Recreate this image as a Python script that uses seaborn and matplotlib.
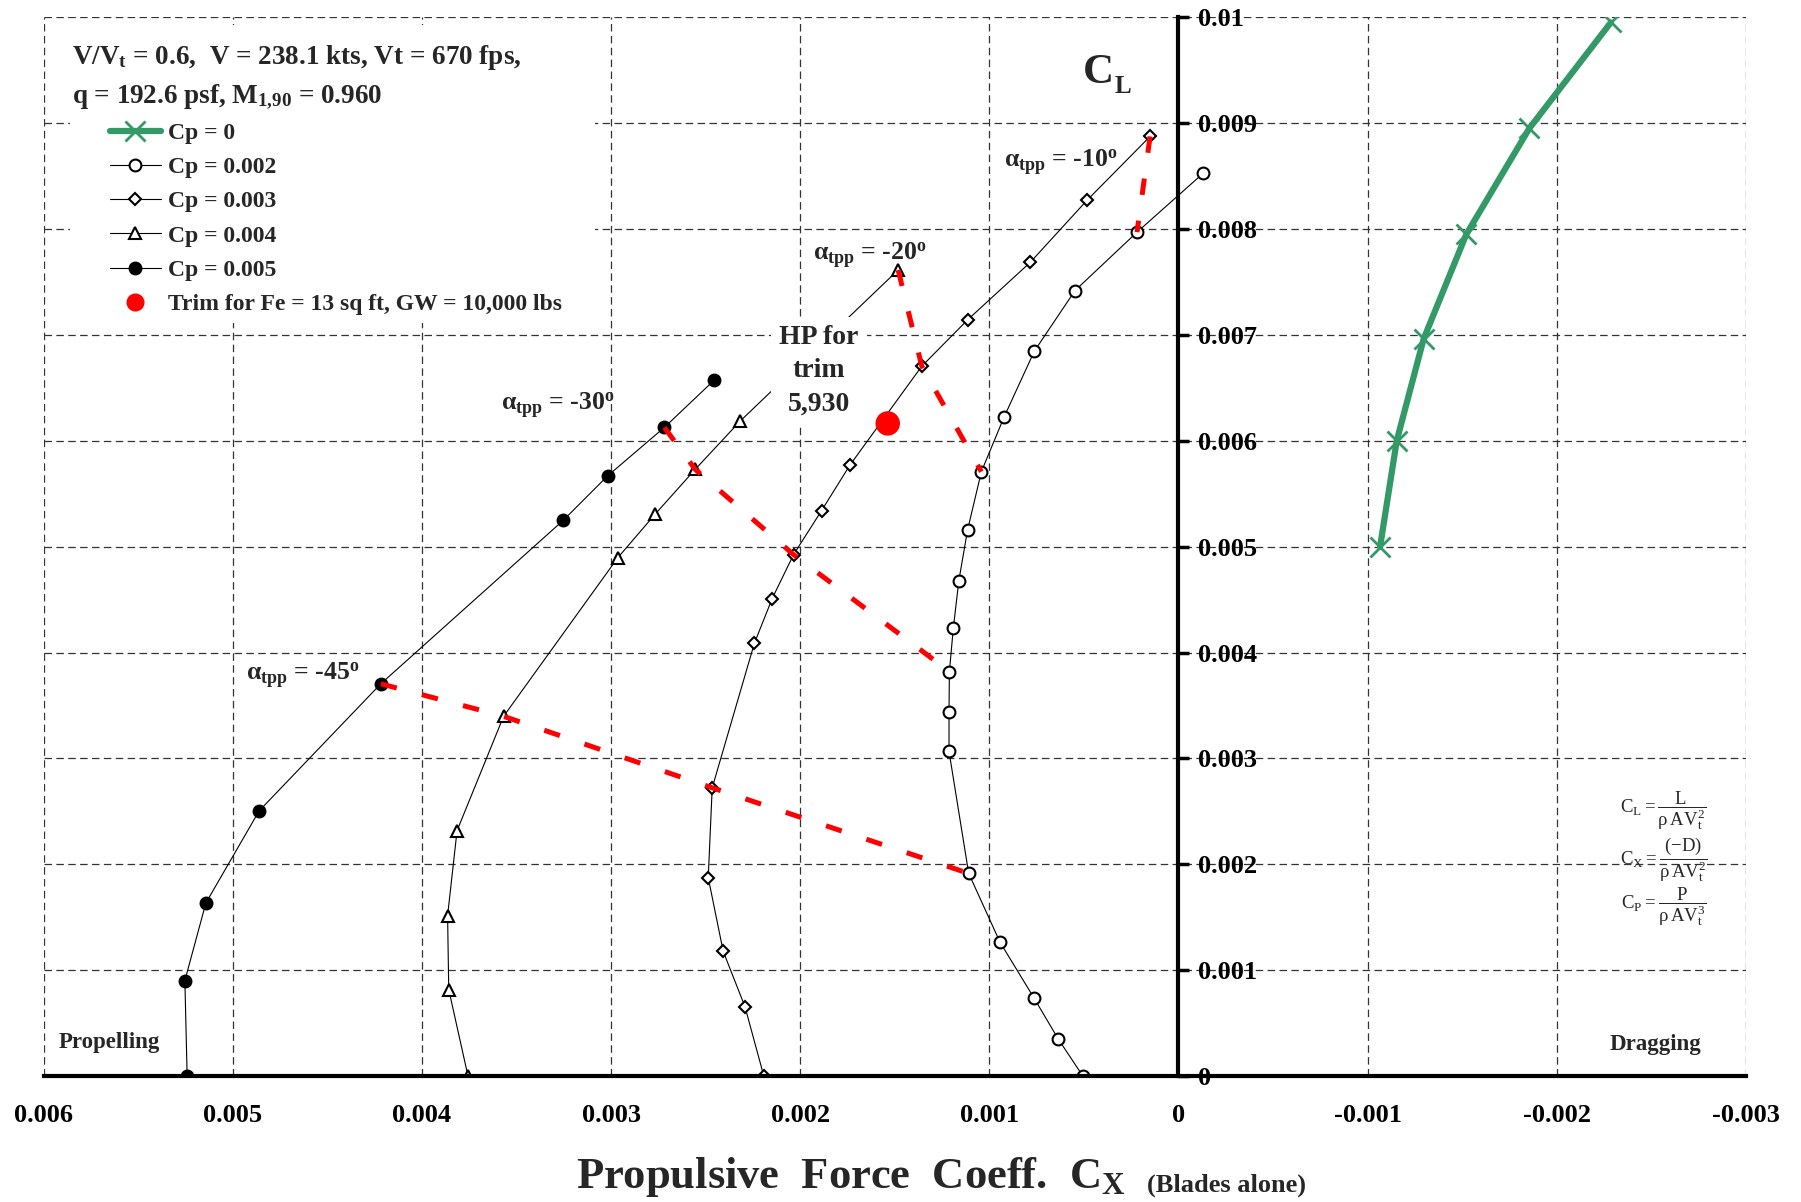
"""
CL vs CX (blades alone) - rotor trim chart, V/Vt = 0.6
"""
import matplotlib
matplotlib.use("Agg")

import matplotlib.pyplot as plt
from matplotlib.lines import Line2D
from matplotlib.patches import Rectangle
import pandas as pd
import seaborn as sns

# =========================
# DATA
# =========================
# Cp = 0  (green, dragging side)
cp0_x = [-0.002286, -0.001855, -0.001522, -0.001296, -0.001154, -0.001066]
cp0_y = [0.00995, 0.00895, 0.00795, 0.00696, 0.00600, 0.00500]

# Cp = 0.002  (open circles)
cp002_x = [-0.000132, 0.000219, 0.000547, 0.000762, 0.000923, 0.001042, 0.001115,
           0.001161, 0.001190, 0.001211, 0.001213, 0.001213, 0.001109, 0.000944,
           0.000764, 0.000635, 0.000505]
cp002_y = [0.008528, 0.007970, 0.007418, 0.006846, 0.006220, 0.005708, 0.005157,
           0.004680, 0.004236, 0.003821, 0.003443, 0.003066, 0.001915, 0.001267,
           0.000739, 0.000349, 0.0]

# Cp = 0.003  (diamonds)
cp003_x = [0.000150, 0.000484, 0.000783, 0.001113, 0.001357, 0.001737, 0.001887,
           0.002035, 0.002148, 0.002242, 0.002465, 0.002486, 0.002407, 0.002292,
           0.002192]
cp003_y = [0.008874, 0.008270, 0.007686, 0.007145, 0.006704, 0.005770, 0.005340,
           0.004925, 0.004510, 0.004088, 0.002723, 0.001874, 0.001179, 0.000657,
           0.0]

# Cp = 0.004  (triangles)
cp004_x = [0.001482, 0.002317, 0.002555, 0.002766, 0.002964, 0.003568, 0.003814,
           0.003864, 0.003858, 0.003756]
cp004_y = [0.007613, 0.006186, 0.005730, 0.005308, 0.004896, 0.003398, 0.002318,
           0.001516, 0.000818, 0.0]

# Cp = 0.005  (filled circles)
cp005_x = [0.002453, 0.002718, 0.003017, 0.003253, 0.004217, 0.004860, 0.005142,
           0.005253, 0.005241]
cp005_y = [0.006575, 0.006126, 0.005670, 0.005248, 0.003705, 0.002506, 0.001635,
           0.000903, 0.0]

# lignes de trim (alpha_tpp constant)
trim_m10_x = [0.000150, 0.000219]
trim_m10_y = [0.008874, 0.007970]
trim_m20_x = [0.001482, 0.001357, 0.001042]
trim_m20_y = [0.007613, 0.006704, 0.005708]
trim_m30_x = [0.002718, 0.002555, 0.002035, 0.001211]
trim_m30_y = [0.006126, 0.005730, 0.004925, 0.003821]
trim_m45_x = [0.004217, 0.003568, 0.002465, 0.001109]
trim_m45_y = [0.003705, 0.003398, 0.002723, 0.001915]

# point de trim (Fe = 13 sq ft, GW = 10,000 lbs)
hp_trim_x = [0.001537]
hp_trim_y = [0.006164]

# ticks
xticks = [0.006, 0.005, 0.004, 0.003, 0.002, 0.001, 0.0, -0.001, -0.002, -0.003]
xtick_labels = ["0.006", "0.005", "0.004", "0.003", "0.002", "0.001", "0",
                "-0.001", "-0.002", "-0.003"]
yticks = [0.0, 0.001, 0.002, 0.003, 0.004, 0.005, 0.006, 0.007, 0.008, 0.009, 0.01]
ytick_labels = ["0", "0.001", "0.002", "0.003", "0.004", "0.005", "0.006",
                "0.007", "0.008", "0.009", "0.01"]

legend_labels = ["Cp = 0", "Cp = 0.002", "Cp = 0.003", "Cp = 0.004", "Cp = 0.005",
                 "Trim for Fe = 13 sq ft, GW = 10,000 lbs"]

GREEN = "#339966"
RED = "#ff0000"

# =========================
# STYLE
# =========================
sns.set_theme(style="white")
plt.rcParams.update({
    "font.family": ["Liberation Serif", "DejaVu Serif"],
    "font.weight": "bold",
    "mathtext.fontset": "custom",
    "mathtext.rm": "Liberation Serif:bold",
    "mathtext.it": "Liberation Serif:bold",
    "mathtext.bf": "Liberation Serif:bold",
    "mathtext.default": "regular",
})

fig = plt.figure(figsize=(18.01, 12.02), dpi=100)
ax = fig.add_axes([0.0242, 0.1047, 0.9452, 0.8810])


def draw_curve(xs, ys, **kw):
    df = pd.DataFrame({"cx": xs, "cl": ys})
    sns.lineplot(data=df, x="cx", y="cl", sort=False, estimator=None,
                 legend=False, ax=ax, **kw)


# -------- courbes Cp
draw_curve(cp0_x, cp0_y, color=GREEN, lw=4.5, marker="x", ms=15,
           mec=GREEN, mew=2, zorder=2)
draw_curve(cp002_x, cp002_y, color="black", lw=0.8, marker="o", ms=8.5,
           mfc="white", mec="black", mew=1.5, zorder=2)
draw_curve(cp003_x, cp003_y, color="black", lw=0.8, marker="D", ms=6,
           mfc="white", mec="black", mew=1.5, zorder=2)
draw_curve(cp004_x, cp004_y, color="black", lw=0.8, marker="^", ms=9,
           mfc="white", mec="black", mew=1.5, zorder=2)
draw_curve(cp005_x, cp005_y, color="black", lw=0.8, marker="o", ms=9,
           mfc="black", mec="black", mew=1, zorder=2)

# -------- lignes de trim en pointillés rouges
for tx, ty in [(trim_m10_x, trim_m10_y), (trim_m20_x, trim_m20_y),
               (trim_m30_x, trim_m30_y), (trim_m45_x, trim_m45_y)]:
    draw_curve(tx, ty, color=RED, lw=3.6, linestyle=(0, (3.3, 5.2)), zorder=3)

sns.scatterplot(x=hp_trim_x, y=hp_trim_y, s=310, color=RED, edgecolor="none",
                legend=False, ax=ax, zorder=4)

# =========================
# AXES
# =========================
ax.set_xlim(0.006, -0.003)
ax.set_ylim(0, 0.01)
ax.set_xlabel("")
ax.set_ylabel("")
ax.set_xticks(xticks)
ax.set_xticklabels(xtick_labels)
ax.set_yticks(yticks)
ax.set_yticklabels(ytick_labels)

ax.spines["top"].set_visible(False)
ax.spines["left"].set_visible(False)
ax.spines["right"].set_position(("data", 0))
ax.yaxis.tick_right()
for side in ["right", "bottom"]:
    ax.spines[side].set_linewidth(3)
    ax.spines[side].set_color("black")

ax.tick_params(axis="x", direction="in", length=6, width=2.5, pad=20,
               labelsize=19, colors="black")
ax.tick_params(axis="y", direction="out", length=8, width=2.5, pad=6,
               labelsize=19, colors="black")

ax.grid(True, linestyle=(0, (6, 3.5)), color="#333333", linewidth=0.9)
ax.set_axisbelow(True)

# -------- fond blanc derrière légende
ax.add_patch(Rectangle((0.003085, 0.00711), 0.00586 - 0.003085, 0.00993 - 0.00711,
                       facecolor="white", edgecolor="none", zorder=1))

# -------- textes
ax.text(0.00585, 0.009558, r"V/V$_{t}$ = 0.6,  V = 238.1 kts, Vt = 670 fps,",
        fontsize=19.5, va="baseline", ha="left", zorder=6)
ax.text(0.00585, 0.009199, r"q = 192.6 psf, M$_{1{,}90}$ = 0.960",
        fontsize=19.5, va="baseline", ha="left", zorder=6)

ax.text(0.000505, 0.009376, "C", fontsize=31, va="baseline", ha="left")
ax.text(0.000336, 0.009281, "L", fontsize=18, va="baseline", ha="left")

alpha_labels = [
    (0.000923, 0.008588, r"α$_{tpp}$ = -10$^{o}$"),
    (0.00193, 0.007707, r"α$_{tpp}$ = -20$^{o}$"),
    (0.00358, 0.006291, r"α$_{tpp}$ = -30$^{o}$"),
    (0.00493, 0.003741, r"α$_{tpp}$ = -45$^{o}$"),
]
for lx, ly, txt in alpha_labels:
    ax.text(lx, ly, txt, fontsize=18.5, va="baseline", ha="left", zorder=6)

ax.text(0.001902, 0.006659, "HP for\ntrim\n5,930", fontsize=20, ha="center",
        va="center", linespacing=1.45, zorder=5,
        bbox=dict(facecolor="white", edgecolor="none", pad=6))

ax.text(0.005921, 0.000266, "Propelling", fontsize=16.5, va="baseline", ha="left")
ax.text(-0.002281, 0.000247, "Dragging", fontsize=16.5, va="baseline", ha="left")

formulas = [
    (0.002504, r"$C_{L} = \dfrac{L}{ρ\,AV_{t}^{2}}$"),
    (0.002042, r"$C_{X} = \dfrac{(−D)}{ρ\,AV_{t}^{2}}$"),
    (0.001598, r"$C_{P} = \dfrac{P}{ρ\,AV_{t}^{3}}$"),
]
for fy, ftxt in formulas:
    ax.text(-0.002564, fy, ftxt, fontsize=13.5, fontweight="normal",
            ha="center", va="center")

fig.text(0.3198, 0.0117, r"Propulsive  Force  Coeff.  C$_{X}$", fontsize=32,
         va="baseline", ha="left")
fig.text(0.6369, 0.0083, "(Blades alone)", fontsize=19, va="baseline", ha="left")

# =========================
# LÉGENDE
# =========================
handles = [
    Line2D([], [], color=GREEN, lw=4.5, marker="x", ms=15, mec=GREEN, mew=2),
    Line2D([], [], color="black", lw=0.8, marker="o", ms=8.5, mfc="white",
           mec="black", mew=1.5),
    Line2D([], [], color="black", lw=0.8, marker="D", ms=6, mfc="white",
           mec="black", mew=1.5),
    Line2D([], [], color="black", lw=0.8, marker="^", ms=9, mfc="white",
           mec="black", mew=1.5),
    Line2D([], [], color="black", lw=0.8, marker="o", ms=9, mfc="black",
           mec="black"),
    Line2D([], [], color=RED, lw=0, marker="o", ms=12, mfc=RED, mec=RED),
]
leg = ax.legend(handles, legend_labels, loc="upper left",
                bbox_to_anchor=(0.039, 0.9007), frameon=False, fontsize=17,
                handlelength=2.16, handletextpad=0.3, labelspacing=0.54,
                borderpad=0, borderaxespad=0)
leg.set_zorder(5)

plt.savefig("out.png", dpi=100)
plt.close()
